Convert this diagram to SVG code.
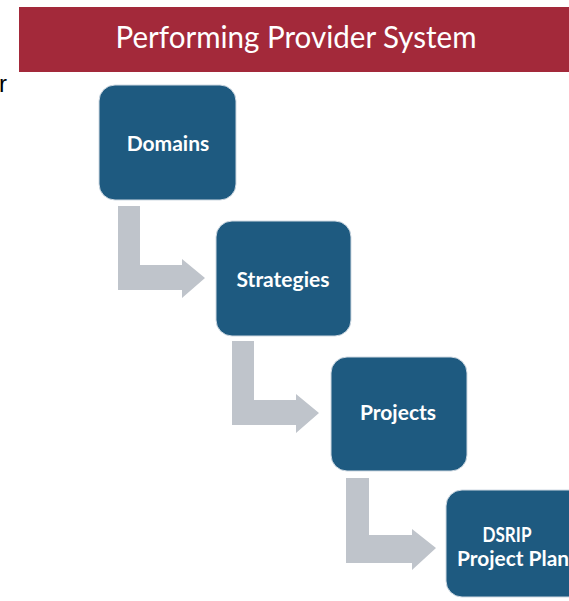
<svg xmlns="http://www.w3.org/2000/svg" width="569" height="601" viewBox="0 0 569 601">
<style>
.box{fill:#1e5a80;stroke:#cfd9e2;stroke-width:1}
.lbl{font-family:Lato,"Liberation Sans",sans-serif;font-weight:bold;font-size:21px;fill:#ffffff;text-anchor:middle}
.arr{fill:#bfc4cb}
</style>
<rect width="569" height="601" fill="#ffffff"/>
<g id="banner">
<rect x="19" y="7" width="560" height="65" fill="#a3293a"/>
<text x="296" y="48" font-family="Lato,'Liberation Sans',sans-serif" font-size="31" fill="#ffffff" text-anchor="middle" textLength="361" lengthAdjust="spacingAndGlyphs">Performing Provider System</text>
</g>
<text x="-1" y="92" font-family="'Liberation Sans',sans-serif" font-size="24" fill="#000000">r</text>
<g id="connectors">
<path class="arr" d="M118,206 H140 V265 H182 V259 L205,278 L182,298 V290 H118 Z"/>
<path class="arr" d="M232,341 H254 V400 H296 V394 L319,413 L296,433 V425 H232 Z"/>
<path class="arr" d="M346,478 H369 V535 H412 V529 L436,548 L412,570 V563 H346 Z"/>
</g>
<g id="domains">
<rect class="box" x="99" y="85" width="137" height="115" rx="16"/>
<text class="lbl" x="168" y="151">Domains</text>
</g>
<g id="strategies">
<rect class="box" x="216" y="221" width="135" height="115" rx="16"/>
<text class="lbl" x="283" y="287">Strategies</text>
</g>
<g id="projects">
<rect class="box" x="331" y="357" width="136" height="114" rx="16"/>
<text class="lbl" x="398" y="420">Projects</text>
</g>
<g id="dsrip">
<rect class="box" x="446" y="490" width="140" height="107" rx="16"/>
<text class="lbl" x="507" y="542" textLength="49" lengthAdjust="spacingAndGlyphs">DSRIP</text>
<text class="lbl" x="513" y="566" textLength="112" lengthAdjust="spacingAndGlyphs">Project Plan</text>
</g>
</svg>
